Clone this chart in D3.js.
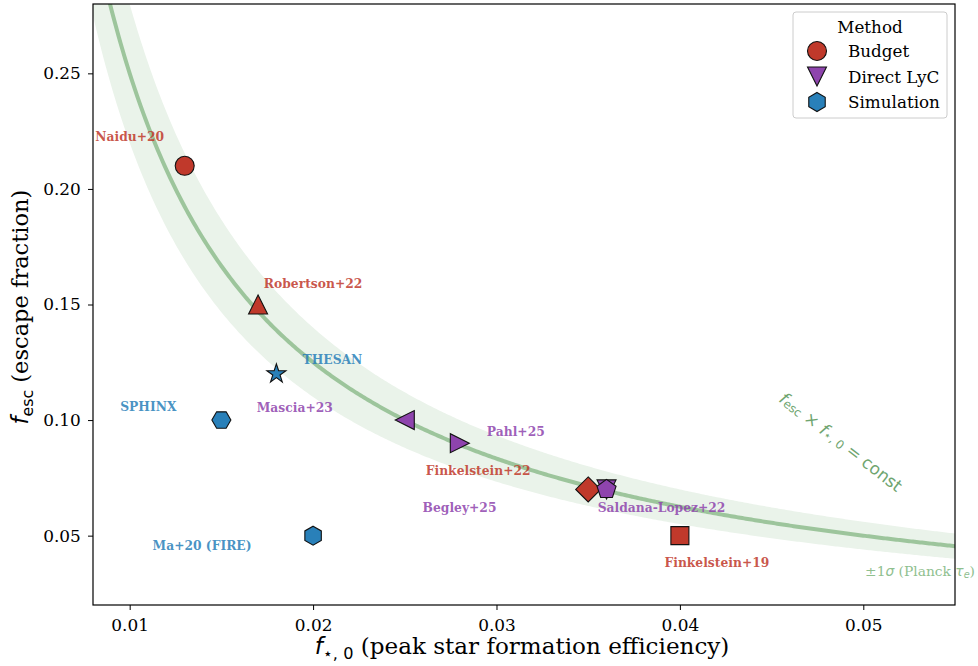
<!DOCTYPE html>
<html>
<head>
<meta charset="utf-8">
<script src="https://cdn.jsdelivr.net/npm/d3@7"></script>
<style>
  body { margin: 0; background: #fff; }
</style>
</head>
<body>
<svg id="chart" width="978" height="666"></svg>
<script>
// data
var names   = ["Naidu+20", "Robertson+22", "THESAN", "SPHINX", "Mascia+23", "Pahl+25",
               "Finkelstein+22", "Begley+25", "Saldana-Lopez+22", "Finkelstein+19", "Ma+20 (FIRE)"];
var fstar   = [0.013, 0.017, 0.018, 0.015, 0.025, 0.028, 0.035, 0.036, 0.036, 0.040, 0.020];
var fesc    = [0.21, 0.15, 0.12, 0.10, 0.10, 0.09, 0.07, 0.07, 0.07, 0.05, 0.05];
var method  = ["Budget", "Budget", "Simulation", "Simulation", "Direct LyC", "Direct LyC",
               "Budget", "Direct LyC", "Direct LyC", "Budget", "Simulation"];
var shapes  = ["circle", "triUp", "star", "hexFlat", "triLeft", "triRight",
               "diamond", "triDown", "pentagon", "square", "hex"];
// label offsets from the marker (px)
var labelDx = [-55, 55, 56, -73, -110, 56, -110, -147, 55, 37, -111];
var labelDy = [-29, -21, -14, -14, -13, -12, -19, 18, 18, 27, 10];

var methods = ["Budget", "Direct LyC", "Simulation"];
var methodColors = ["#c0392b", "#8e44ad", "#2980b9"];
var legendShapes = ["circle", "triDown", "hex"];

var constMid = 0.0025, constLo = 0.0022, constHi = 0.0028;
var xTicks = [0.01, 0.02, 0.03, 0.04, 0.05];
var yTicks = [0.05, 0.10, 0.15, 0.20, 0.25];

var svg = d3.select("#chart");
var margin = {left: 93, right: 23, top: 4, bottom: 61};
var W = 978, H = 666;
var SERIF = "'DejaVu Serif'", SANS = "'DejaVu Sans'";

// scale a text's font size so that it spans the width seen in the figure
function fit(sel, target) {
    sel.each(function() {
        var t = d3.select(this);
        var w = this.getComputedTextLength();
        var fs = parseFloat(t.attr("font-size"));
        if (w > 0) t.attr("font-size", fs * target / w);
    });
}

var x = d3.scaleLinear().domain([0.008, 0.055]).range([margin.left, W - margin.right]);
var y = d3.scaleLinear().domain([0.02, 0.28]).range([H - margin.bottom, margin.top]);
var color = d3.scaleOrdinal().domain(methods).range(methodColors);

svg.append("defs").append("clipPath").attr("id", "clip")
    .append("rect")
    .attr("x", margin.left).attr("y", margin.top)
    .attr("width", W - margin.left - margin.right)
    .attr("height", H - margin.top - margin.bottom);

var plot = svg.append("g").attr("clip-path", "url(#clip)");

// band and curve
var xs = d3.range(0.0075, 0.0556, 0.0001);
plot.append("path")
    .datum(xs)
    .attr("fill", "#eaf3ea")
    .attr("d", d3.area()
        .x(function(d) { return x(d); })
        .y0(function(d) { return y(constLo / d); })
        .y1(function(d) { return y(constHi / d); }));

plot.append("path")
    .datum(xs)
    .attr("fill", "none")
    .attr("stroke", "#9dc59c")
    .attr("stroke-width", 4)
    .attr("d", d3.line()
        .x(function(d) { return x(d); })
        .y(function(d) { return y(constMid / d); }));

// marker shapes
function polyPts(n, r, rot) {
    var pts = [];
    for (var i = 0; i < n; i++) {
        var a = rot + i * 2 * Math.PI / n;
        pts.push([r * Math.sin(a), -r * Math.cos(a)]);
    }
    return pts;
}
function starPts(R) {
    var pts = [];
    for (var i = 0; i < 10; i++) {
        var r = i % 2 ? R * 0.38 : R;
        var a = i * Math.PI / 5;
        pts.push([r * Math.sin(a), -r * Math.cos(a)]);
    }
    return pts;
}
function shapePath(s) {
    var pts;
    if (s === "circle") return d3.symbol().type(d3.symbolCircle).size(Math.PI * 9.5 * 9.5)();
    if (s === "triUp") pts = [[0, -9.5], [-9.5, 9.5], [9.5, 9.5]];
    if (s === "triDown") pts = [[0, 9.5], [-9.5, -9.5], [9.5, -9.5]];
    if (s === "triLeft") pts = [[-9.5, 0], [9.5, -9.5], [9.5, 9.5]];
    if (s === "triRight") pts = [[9.5, 0], [-9.5, -9.5], [-9.5, 9.5]];
    if (s === "star") pts = starPts(10);
    if (s === "hex") pts = polyPts(6, 9.5, 0);
    if (s === "hexFlat") pts = polyPts(6, 9.5, Math.PI / 6);
    if (s === "pentagon") pts = polyPts(5, 10, 0);
    if (s === "diamond") pts = [[0, -12.5], [12.5, 0], [0, 12.5], [-12.5, 0]];
    if (s === "square") pts = [[-9, -9], [9, -9], [9, 9], [-9, 9]];
    return d3.line()(pts) + "Z";
}

var idx = d3.range(names.length);

svg.append("g").selectAll("path")
    .data(idx)
    .enter().append("path")
    .attr("transform", function(i) { return "translate(" + x(fstar[i]) + "," + y(fesc[i]) + ")"; })
    .attr("d", function(i) { return shapePath(shapes[i]); })
    .attr("fill", function(i) { return color(method[i]); })
    .attr("stroke", "#111")
    .attr("stroke-width", 1.1);

var labels = svg.append("g").selectAll("text")
    .data(idx)
    .enter().append("text")
    .attr("x", function(i) { return x(fstar[i]) + labelDx[i]; })
    .attr("y", function(i) { return y(fesc[i]) + labelDy[i]; })
    .attr("text-anchor", "middle")
    .attr("dominant-baseline", "central")
    .attr("font-size", 12)
    .attr("font-weight", "bold")
    .attr("fill", function(i) { return color(method[i]); })
    .attr("fill-opacity", 0.85)
    .style("font-family", SERIF)
    .text(function(i) { return names[i]; });
// one common size, taken from "Finkelstein+22" (105 px wide in the figure)
var refW = labels.filter(function(i) { return i === 6; }).node().getComputedTextLength();
labels.attr("font-size", 12 * 105 / refW);

// annotations
svg.append("text")
    .attr("transform", "translate(841,442) rotate(37.8)")
    .attr("text-anchor", "middle")
    .attr("dominant-baseline", "central")
    .attr("fill", "#6fa56f")
    .attr("font-size", 17.3)
    .style("font-family", SANS)
    .call(function(t) {
        t.append("tspan").attr("font-style", "italic").text("f");
        t.append("tspan").attr("font-size", "0.7em").attr("dy", "0.25em").text("esc");
        t.append("tspan").attr("dy", "-0.175em").text(" \u00d7 ");
        t.append("tspan").attr("font-style", "italic").text("f");
        t.append("tspan").attr("font-size", "0.7em").attr("dy", "0.25em").text("\u22c6, 0");
        t.append("tspan").attr("dy", "-0.175em").text(" = const");
    })
    .call(fit, 150);

svg.append("text")
    .attr("x", 975).attr("y", 571)
    .attr("text-anchor", "end")
    .attr("dominant-baseline", "central")
    .attr("fill", "#8fc08f")
    .attr("font-size", 12)
    .style("font-family", SERIF)
    .call(function(t) {
        t.append("tspan").text("\u00b11");
        t.append("tspan").attr("font-style", "italic").style("font-family", SANS).text("\u03c3");
        t.append("tspan").text(" (Planck ");
        t.append("tspan").attr("font-style", "italic").style("font-family", SANS).text("\u03c4");
        t.append("tspan").attr("font-size", "0.7em").attr("dy", "0.3em").attr("font-style", "italic").style("font-family", SANS).text("e");
        t.append("tspan").attr("dy", "-0.21em").text(")");
    })
    .call(fit, 110);

// axes
var xAxis = svg.append("g")
    .attr("transform", "translate(0," + (H - margin.bottom) + ")")
    .call(d3.axisBottom(x).tickValues(xTicks).tickFormat(d3.format(".2f")).tickSize(5).tickSizeOuter(0));
var yAxis = svg.append("g")
    .attr("transform", "translate(" + margin.left + ",0)")
    .call(d3.axisLeft(y).tickValues(yTicks).tickFormat(d3.format(".2f")).tickSize(5).tickSizeOuter(0));
[xAxis, yAxis].forEach(function(a) {
    a.select(".domain").remove();
    a.selectAll("line").attr("stroke", "#000");
    a.selectAll("text").attr("font-size", 17).attr("fill", "#000")
        .style("font-family", SERIF)
        .call(fit, 37.7);
});
xAxis.selectAll("text").attr("dy", "1.05em");
yAxis.selectAll("text").attr("dx", "-0.25em");

svg.append("rect")
    .attr("x", margin.left).attr("y", margin.top)
    .attr("width", W - margin.left - margin.right)
    .attr("height", H - margin.top - margin.bottom)
    .attr("fill", "none").attr("stroke", "#000").attr("stroke-width", 1.2);

// axis labels
svg.append("text")
    .attr("x", 522).attr("y", 654)
    .attr("text-anchor", "middle")
    .attr("font-size", 20)
    .style("font-family", SERIF)
    .call(function(t) {
        t.append("tspan").attr("font-style", "italic").style("font-family", SANS).text("f");
        t.append("tspan").attr("font-size", "0.7em").attr("dy", "0.3em").style("font-family", SANS).text("\u22c6, 0");
        t.append("tspan").attr("dy", "-0.21em").text(" (peak star formation efficiency)");
    })
    .call(fit, 415);

svg.append("text")
    .attr("transform", "translate(28,307) rotate(-90)")
    .attr("text-anchor", "middle")
    .attr("font-size", 20)
    .style("font-family", SERIF)
    .call(function(t) {
        t.append("tspan").attr("font-style", "italic").style("font-family", SANS).text("f");
        t.append("tspan").attr("font-size", "0.7em").attr("dy", "0.3em").style("font-family", SANS).text("esc");
        t.append("tspan").attr("dy", "-0.21em").text(" (escape fraction)");
    })
    .call(fit, 235);

// legend
var lg = svg.append("g");
lg.append("rect")
    .attr("x", 793).attr("y", 12).attr("width", 154).attr("height", 106).attr("rx", 3)
    .attr("fill", "#fff").attr("fill-opacity", 0.8)
    .attr("stroke", "#ccc");
var items = lg.selectAll(".item")
    .data(methods)
    .enter().append("g")
    .attr("transform", function(d, i) { return "translate(817," + (51 + i * 25.5) + ")"; });
items.append("path")
    .attr("d", function(d, i) { return shapePath(legendShapes[i]); })
    .attr("fill", function(d) { return color(d); })
    .attr("stroke", "#111").attr("stroke-width", 1.1);
var itemText = items.append("text")
    .attr("x", 31).attr("dominant-baseline", "central")
    .attr("font-size", 16)
    .style("font-family", SERIF)
    .text(function(d) { return d; });
var simW = itemText.filter(function(d) { return d === "Simulation"; }).node().getComputedTextLength();
var legendFs = 16 * 92 / simW;
itemText.attr("font-size", legendFs);
lg.append("text")
    .attr("x", 870).attr("y", 27)
    .attr("text-anchor", "middle").attr("dominant-baseline", "central")
    .attr("font-size", legendFs)
    .style("font-family", SERIF)
    .text("Method");
</script>
</body>
</html>
